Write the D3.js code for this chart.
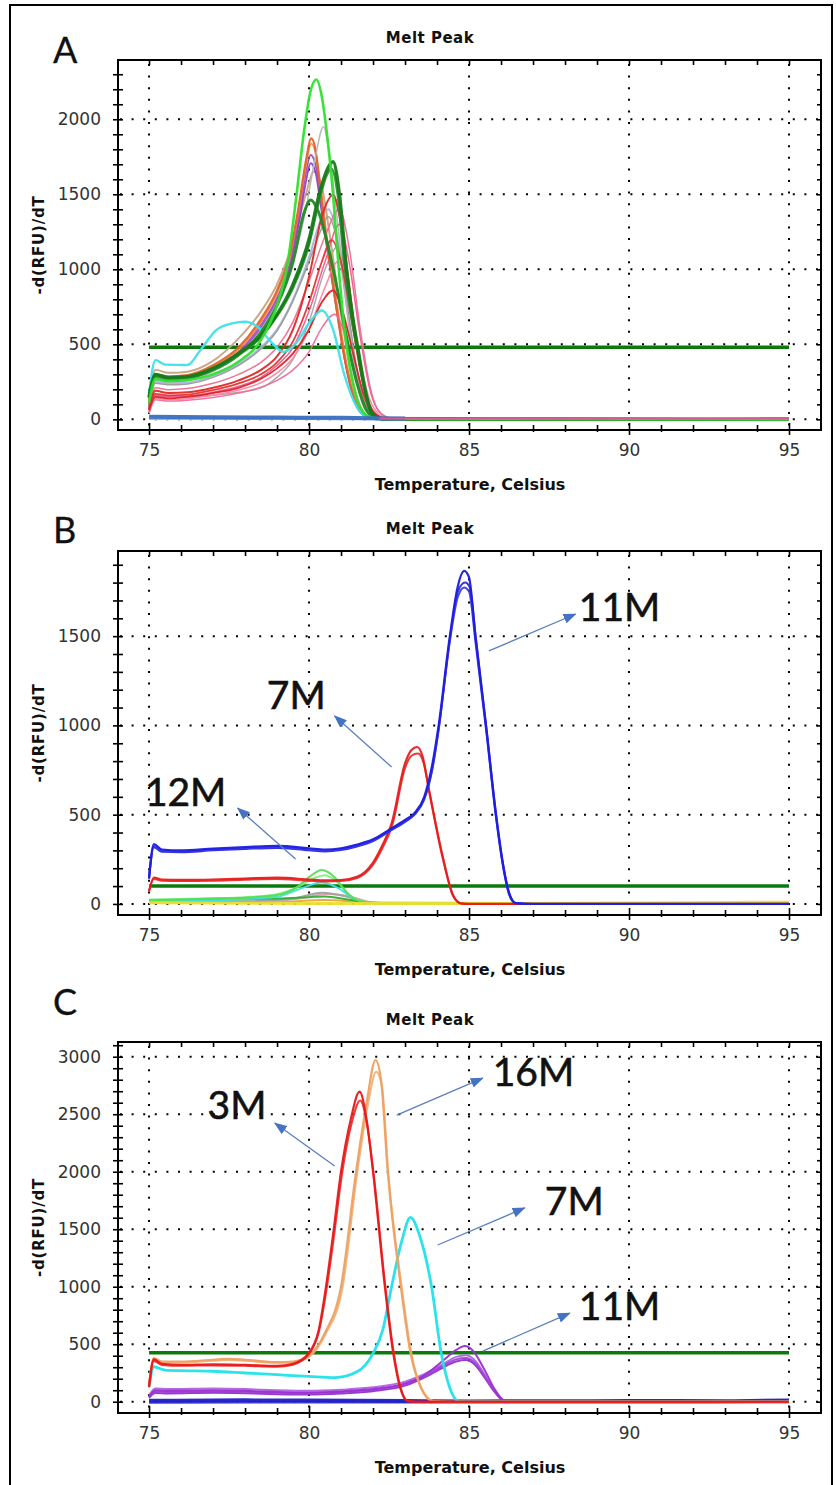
<!DOCTYPE html>
<html>
<head>
<meta charset="utf-8">
<script src="https://cdn.jsdelivr.net/npm/d3@7"></script>
<style>
  body { margin: 0; background: #fff; }
  .tick text { font-family: "DejaVu Sans", sans-serif; font-size: 17px; fill: #333; }
  .ttl { font-family: "DejaVu Sans", sans-serif; font-weight: bold; fill: #111; }
  .big { font-family: Lato, "Open Sans", sans-serif; fill: #111; stroke: #111; stroke-width: 0.6px; }
</style>
</head>
<body>
<svg id="fig" width="836" height="1485"></svg>
<script>
// ---- tick labels ----
const xTicks = [75, 80, 85, 90, 95];
const yTicksA = [0, 500, 1000, 1500, 2000];
const yTicksB = [0, 500, 1000, 1500];
const yTicksC = [0, 500, 1000, 1500, 2000, 2500, 3000];

// ---- thresholds ----
const thrA = 480, thrB = 100, thrC = 425;

// ---- panel A: melt curves [temperature, -d(RFU)/dT] ----
const aBlue = [[75,18],[77,14],[79,12],[81,10],[82,8],[83,5]];
const aBlueLight = [[75,2],[78,3],[81,1],[83,0]];
const aGrayLow = [[75,60],[75.2,150],[76.2,150],[77,160],[77.8,180],[78.5,210],[79,280],[79.5,400],[80,650],[80.5,1000],[80.9,1150],[81.2,900],[81.6,350],[82,60],[82.5,0],[95,0]];
const aTan = [[75,130],[75.2,330],[75.6,310],[76.2,318],[77,390],[77.8,540],[78.5,720],[79,900],[79.5,1180],[79.9,1500],[80.15,1650],[80.4,1550],[80.7,1150],[81,700],[81.3,330],[81.6,90],[81.95,10],[95,0]];
const aLightBlue = [[75,110],[75.2,250],[75.6,240],[76.2,245],[77,290],[77.8,370],[78.5,480],[79,600],[79.5,800],[80,1080],[80.35,1320],[80.6,1400],[80.85,1250],[81.15,800],[81.45,350],[81.8,80],[82.2,5],[95,0]];
const aGray2 = [[75,90],[75.2,240],[75.6,230],[76.2,236],[77,280],[77.8,360],[78.5,470],[79,590],[79.5,790],[80,1050],[80.35,1250],[80.6,1350],[80.85,1220],[81.2,760],[81.5,330],[81.85,60],[82.3,0],[95,0]];
const aPurple2 = [[75,85],[75.2,270],[75.6,258],[76.2,268],[77,330],[77.8,435],[78.5,610],[79,790],[79.4,1010],[79.7,1330],[79.9,1580],[80.05,1707],[80.2,1650],[80.35,1450],[80.55,1160],[80.85,750],[81.15,360],[81.45,110],[81.8,15],[82.2,0],[95,0]];
const aPurple1 = [[75,90],[75.2,280],[75.6,268],[76.2,278],[77,340],[77.8,450],[78.5,630],[79,810],[79.4,1040],[79.7,1380],[79.9,1640],[80.05,1762],[80.2,1700],[80.35,1500],[80.55,1200],[80.85,780],[81.15,380],[81.45,120],[81.8,20],[82.2,0],[95,0]];
const aOrange2 = [[75,95],[75.2,290],[75.6,278],[76.2,288],[77,350],[77.8,465],[78.5,650],[79,840],[79.4,1080],[79.7,1420],[79.9,1690],[80.07,1838],[80.22,1760],[80.36,1560],[80.55,1230],[80.85,800],[81.15,400],[81.45,130],[81.75,25],[82.2,2],[95,0]];
const aOrange1 = [[75,100],[75.2,300],[75.6,285],[76.2,295],[77,360],[77.8,480],[78.5,670],[79,860],[79.4,1100],[79.7,1450],[79.9,1720],[80.07,1872],[80.2,1800],[80.32,1595],[80.5,1262],[80.8,820],[81.1,420],[81.4,140],[81.7,30],[82.1,3],[95,0]];
const aGray1 = [[75,80],[75.2,260],[75.6,250],[76.2,258],[77,320],[77.8,430],[78.5,600],[79,780],[79.5,1050],[79.9,1400],[80.2,1750],[80.45,1950],[80.65,1750],[80.9,1300],[81.2,700],[81.5,250],[81.8,50],[82.2,5],[95,0]];
const aPink3 = [[75,40],[75.2,130],[75.6,122],[76.2,128],[77,145],[77.8,175],[78.5,215],[79,260],[79.5,330],[80,450],[80.4,610],[80.8,700],[81.1,580],[81.45,300],[81.8,90],[82.2,10],[95,0]];
const aPink2 = [[75,40],[75.2,140],[75.6,132],[76.2,138],[77,160],[77.8,195],[78.5,245],[79,310],[79.5,410],[80,600],[80.5,880],[80.9,1050],[81.2,900],[81.55,450],[81.9,130],[82.3,20],[82.8,0],[95,0]];
const aPink1 = [[75,50],[75.2,160],[75.6,150],[76.2,155],[77,180],[77.8,220],[78.5,280],[79,360],[79.5,480],[80,720],[80.5,1050],[80.95,1300],[81.25,1050],[81.6,550],[81.9,200],[82.2,50],[82.6,5],[95,0]];
const aPink4 = [[75,70],[75.2,210],[75.6,198],[76.2,205],[77,240],[77.8,300],[78.5,380],[79,480],[79.5,650],[80,920],[80.5,1220],[80.95,1400],[81.25,1150],[81.6,600],[81.95,180],[82.3,30],[82.8,0],[95,0]];
const aRed3 = [[75,60],[75.2,150],[75.6,140],[76.2,150],[77,175],[77.8,210],[78.5,270],[79,340],[79.5,440],[80,600],[80.4,780],[80.75,860],[81.05,720],[81.4,420],[81.7,170],[82,40],[82.4,0],[95,0]];
const aRed2 = [[75,60],[75.2,170],[75.6,160],[76.2,165],[77,195],[77.8,240],[78.5,300],[79,380],[79.5,520],[80,780],[80.4,1050],[80.7,1195],[81,1050],[81.3,700],[81.6,330],[81.9,90],[82.2,15],[82.6,0],[95,0]];
const aRed1 = [[75,70],[75.2,190],[75.6,175],[76.2,180],[77,210],[77.8,260],[78.5,330],[79,420],[79.5,600],[80,950],[80.4,1350],[80.75,1495],[81,1300],[81.25,900],[81.5,480],[81.8,150],[82.1,30],[82.5,0],[95,0]];
const aCyan = [[75,170],[75.2,395],[75.5,365],[76.2,362],[76.6,460],[77.1,595],[77.6,640],[78,650],[78.4,615],[78.8,520],[79.2,450],[79.6,510],[80,640],[80.4,725],[80.75,600],[81.1,300],[81.5,80],[81.9,10],[82.5,0],[95,0]];
const aDG3 = [[75,140],[75.2,290],[75.6,275],[76.2,280],[77,330],[77.8,430],[78.5,580],[79,760],[79.5,1050],[79.85,1380],[80.05,1462],[80.3,1380],[80.6,1150],[80.9,850],[81.2,520],[81.5,240],[81.8,60],[82.1,5],[95,0]];
const aDG2 = [[75,145],[75.2,295],[75.6,275],[76.2,280],[77,335],[77.8,430],[78.5,550],[79,690],[79.5,880],[80,1170],[80.3,1450],[80.55,1630],[80.7,1670],[80.9,1500],[81.1,1050],[81.3,720],[81.5,480],[81.7,230],[81.95,40],[82.3,0],[95,0]];
const aDG1 = [[75,150],[75.2,300],[75.6,280],[76.2,285],[77,340],[77.8,440],[78.5,560],[79,700],[79.5,900],[80,1200],[80.33,1510],[80.6,1680],[80.75,1717],[80.95,1500],[81.17,1000],[81.35,700],[81.53,470],[81.75,200],[82,30],[82.4,0],[95,0]];
const aLime = [[75,110],[75.2,270],[75.6,255],[76.2,262],[77,300],[77.8,385],[78.5,530],[79,760],[79.3,1000],[79.6,1480],[79.85,1930],[80.05,2190],[80.23,2265],[80.4,2150],[80.55,1920],[80.75,1500],[80.9,1080],[81.1,620],[81.35,260],[81.6,80],[81.9,15],[82.4,2],[95,0]];
const aTail = [[82.2,6],[84,4],[86,7],[88,3],[90,6],[92,4],[94,8],[95,9]];

// ---- panel B ----
const bYellow = [[75,6],[80,3],[85,2],[90,5],[95,10]];
const bOrange = [[75,8],[79,10],[80.5,22],[81.5,12],[82.5,4],[95,5]];
const bPink = [[75,5],[78,10],[79.5,25],[80.6,55],[81.4,35],[82,8],[83,0],[95,2]];
const bGray = [[75,10],[78,15],[79.5,30],[80.4,62],[81.2,40],[81.8,10],[82.5,0],[95,0]];
const bGreenDark = [[75,22],[77,25],[79,30],[80,38],[80.5,42],[81.2,25],[82,6],[95,2]];
const bCyan = [[75,15],[77,20],[79,40],[79.8,90],[80.4,120],[80.9,90],[81.4,30],[82,5],[95,2]];
const bGreen2 = [[75,25],[76,28],[77,32],[78,38],[79,55],[79.7,100],[80.1,140],[80.5,160],[80.9,120],[81.3,45],[81.8,10],[82.5,3],[95,3]];
const bGreen1 = [[75,20],[76,25],[77,30],[78,35],[79,50],[79.6,90],[80,150],[80.4,190],[80.8,150],[81.2,60],[81.6,15],[82,5],[95,3]];
const bRed2 = [[75,75],[75.15,140],[75.4,130],[76,128],[77,130],[78,136],[79,140],[80,130],[80.5,126],[81,128],[81.5,145],[82,220],[82.3,315],[82.6,440],[83,760],[83.2,830],[83.4,842],[83.58,790],[83.78,610],[84.2,250],[84.5,45],[84.75,2],[85,0],[95,0]];
const bRed1 = [[75,70],[75.15,148],[75.4,137],[76,135],[77,137],[78,142],[79,147],[80,137],[80.5,132],[81,134],[81.5,152],[82,232],[82.3,332],[82.58,450],[83,787],[83.2,862],[83.38,879],[83.55,825],[83.75,637],[84.17,264],[84.5,50],[84.75,3],[85,0],[95,0]];
const bBlue3 = [[75,140],[75.15,318],[75.4,292],[76,290],[77,300],[78,308],[79,314],[80,300],[80.5,294],[81,302],[81.5,322],[82,352],[82.5,405],[83,460],[83.3,500],[83.6,585],[83.85,750],[84.05,975],[84.4,1480],[84.65,1750],[84.88,1800],[85.02,1775],[85.22,1480],[85.55,975],[85.86,485],[86.07,220],[86.27,55],[86.47,5],[87,0],[95,0]];
const bBlue2 = [[75,150],[75.15,325],[75.4,298],[76,295],[77,305],[78,312],[79,318],[80,305],[80.5,298],[81,306],[81.5,326],[82,356],[82.5,410],[83,465],[83.3,505],[83.6,590],[83.85,760],[84.05,980],[84.4,1470],[84.65,1720],[84.85,1773],[85,1750],[85.2,1470],[85.53,980],[85.84,490],[86.05,225],[86.25,55],[86.45,5],[87,0],[95,0]];
const bBlue1 = [[75,145],[75.15,335],[75.4,305],[76,300],[77,310],[78,318],[79,325],[80,312],[80.5,305],[81,312],[81.5,332],[82,362],[82.5,415],[83,470],[83.3,510],[83.6,600],[83.85,780],[84.05,1000],[84.4,1500],[84.65,1780],[84.85,1866],[85,1830],[85.2,1500],[85.53,1000],[85.84,500],[86.05,230],[86.25,60],[86.45,5],[87,0],[95,0]];

// ---- panel C ----
const cBlue2 = [[75,-4],[80,-2],[85,-3],[90,-2],[95,-1]];
const cBlue = [[75,10],[78,14],[80,12],[83,8],[85,5],[88,6],[90,8],[93,7],[95,12]];
const cPurple4 = [[75,55],[75.2,115],[75.6,110],[77,115],[78,110],[79,100],[80,95],[81,105],[82,125],[83,175],[83.6,240],[84.2,330],[84.6,390],[84.9,405],[85.15,370],[85.5,230],[85.8,95],[86.1,8],[86.4,0],[95,0]];
const cPurple3 = [[75,35],[75.2,75],[75.6,72],[77,78],[78,74],[79,66],[80,62],[81,72],[82,92],[83,140],[83.6,210],[84.2,300],[84.6,350],[84.9,362],[85.15,330],[85.5,205],[85.8,85],[86.1,6],[86.4,0],[95,0]];
const cPurple2 = [[75,40],[75.2,90],[75.6,85],[77,90],[78,86],[79,78],[80,74],[81,84],[82,104],[83,152],[83.6,222],[84.2,315],[84.6,368],[84.9,380],[85.15,348],[85.5,215],[85.8,90],[86.1,7],[86.4,0],[95,0]];
const cPurple1 = [[75,40],[75.2,100],[75.6,95],[77,100],[78,95],[79,85],[80,80],[81,90],[82,110],[83,160],[83.6,230],[84.2,360],[84.6,450],[84.87,484],[85.1,450],[85.5,270],[85.8,110],[86.1,10],[86.4,0],[95,0]];
const cCyan = [[75,130],[75.15,304],[75.5,275],[76,270],[77,265],[78,250],[79,235],[80,220],[80.8,210],[81.5,260],[82,420],[82.3,620],[82.58,1000],[82.9,1400],[83.17,1603],[83.45,1450],[83.83,1000],[84.13,425],[84.4,120],[84.67,5],[85,0],[95,0]];
const cOrange2 = [[75,145],[75.15,370],[75.4,342],[76,342],[77,356],[77.5,362],[78,356],[79,338],[79.5,342],[80,390],[80.5,580],[81.05,1000],[81.5,1980],[81.85,2600],[82.1,2870],[82.28,2740],[82.48,1980],[82.9,990],[83.2,420],[83.52,115],[83.9,5],[84.5,0],[95,0]];
const cOrange1 = [[75,150],[75.15,380],[75.4,350],[76,350],[77,365],[77.5,372],[78,365],[79,345],[79.5,350],[80,400],[80.5,600],[81,1000],[81.47,2000],[81.8,2600],[82.08,2971],[82.25,2800],[82.46,2000],[82.87,1000],[83.17,425],[83.5,120],[83.87,5],[84.5,0],[95,0]];
const cRed2 = [[75,125],[75.15,355],[75.4,320],[76,312],[77,316],[78,312],[79,304],[79.5,322],[80,415],[80.3,600],[80.56,1000],[80.78,1440],[81.03,1980],[81.33,2420],[81.6,2620],[81.82,2400],[82.02,1980],[82.39,990],[82.65,420],[82.87,115],[83.1,5],[83.5,0],[95,0]];
const cRed1 = [[75,130],[75.15,368],[75.4,330],[76,320],[77,325],[78,320],[79,312],[79.5,330],[80,426],[80.3,620],[80.53,1000],[80.75,1450],[81,2000],[81.3,2450],[81.58,2696],[81.8,2450],[82,2000],[82.37,1000],[82.63,425],[82.85,120],[83.08,5],[83.5,0],[95,0]];

// ---- annotations: label, label anchor (T, value), arrow tail, arrow head ----
const notesB = [
  ["11M", 88.43, 1585, 85.62, 1417, 88.33, 1624],
  ["7M", 78.68, 1092, 82.58, 767, 80.8, 1053],
  ["12M", 74.87, 549, 79.58, 252, 77.77, 537]
];
const notesC = [
  ["16M", 85.74, 2745, 82.74, 2492, 85.43, 2814],
  ["3M", 76.83, 2458, 80.8, 2050, 78.93, 2423],
  ["7M", 87.37, 1623, 84.02, 1363, 86.74, 1685],
  ["11M", 88.43, 710, 85.43, 440, 88.15, 771]
];

const svg = d3.select("#fig");

// outer frame
svg.append("rect").attr("x", 10).attr("y", 5).attr("width", 822).attr("height", 1500)
  .attr("fill", "none").attr("stroke", "#000").attr("stroke-width", 2);

const defs = svg.append("defs");
defs.append("marker").attr("id", "arr")
  .attr("viewBox", "0 0 13 10").attr("refX", 12).attr("refY", 5)
  .attr("markerWidth", 13).attr("markerHeight", 10)
  .attr("markerUnits", "userSpaceOnUse").attr("orient", "auto")
  .append("path").attr("d", "M0,0L13,5L0,10Z").attr("fill", "#4472c4");

const panels = [
  { letter: "A", top: 60, bottom: 430, yMin: -71, yMax: 2395, letterY: 63, yTicks: yTicksA, thr: thrA,
    curves: [
      [aGrayLow, "#a8a8a8", 1.5], [aTan, "#c8a482", 2], [aLightBlue, "#a6b6d8", 2], [aGray2, "#9a9a9a", 1.5],
      [aPurple2, "#8a3fd0", 1.8], [aPurple1, "#a848c0", 1.8], [aOrange2, "#f08a55", 1.8], [aOrange1, "#e06428", 2.2],
      [aGray1, "#b4b4b4", 1.5], [aPink3, "#f06a9a", 1.5], [aPink2, "#ff7fa8", 1.5], [aPink1, "#f05a8c", 1.5],
      [aPink4, "#e8708f", 1.5], [aRed3, "#dc2222", 1.8], [aRed2, "#e43030", 1.8], [aRed1, "#e02828", 2],
      [aCyan, "#3ee0ea", 2.4], [aDG3, "#1f8a25", 3], [aDG2, "#2a9430", 2.8], [aDG1, "#177a1a", 3.4],
      [aLime, "#2fe02f", 2.6], [aBlueLight, "#7ab8ec", 2], [aBlue, "#3a6ec0", 4], [aTail, "#e0559a", 2]
    ], notes: [] },
  { letter: "B", top: 551, bottom: 915, yMin: -62, yMax: 1977, letterY: 543, yTicks: yTicksB, thr: thrB,
    curves: [
      [bOrange, "#f0a040", 2], [bPink, "#e0a0b8", 2], [bGray, "#a0a0a0", 2], [bGreenDark, "#30b030", 2],
      [bCyan, "#40e0e0", 2], [bGreen2, "#80ee80", 2], [bGreen1, "#55dd55", 2], [bYellow, "#e8e030", 3],
      [bRed2, "#e83030", 2], [bRed1, "#e81c1c", 2.2],
      [bBlue3, "#2828d8", 2], [bBlue2, "#3a3ae8", 2], [bBlue1, "#1c1ce0", 2.2]
    ], notes: notesB },
  { letter: "C", top: 1042, bottom: 1413, yMin: -98, yMax: 3128, letterY: 1015, yTicks: yTicksC, thr: thrC,
    curves: [
      [cBlue2, "#3030d0", 3], [cBlue, "#1e1ec8", 3.5],
      [cPurple4, "#b060e0", 2], [cPurple3, "#9030c8", 2], [cPurple2, "#a040d8", 2], [cPurple1, "#9b30d0", 2],
      [cCyan, "#22e2ea", 2.8], [cOrange2, "#f2b078", 2], [cOrange1, "#eea060", 2.2],
      [cRed2, "#ee3030", 2], [cRed1, "#e81818", 2.2]
    ], notes: notesC }
];

function drawPanel(p, i) {
  const x = d3.scaleLinear().domain([74.03, 96.0]).range([118, 821]);
  const y = d3.scaleLinear().domain([p.yMin, p.yMax]).range([p.bottom, p.top]);
  const g = svg.append("g");

  g.append("text").attr("class", "big").attr("x", 53).attr("y", p.letterY)
    .attr("font-size", 36).style("stroke-width", "0.3px").text(p.letter);
  g.append("text").attr("class", "ttl").attr("x", 430).attr("y", p.top - 17)
    .attr("text-anchor", "middle").attr("font-size", 15).attr("letter-spacing", 0.5).text("Melt Peak");
  g.append("text").attr("class", "ttl").attr("x", 470).attr("y", p.bottom + 60)
    .attr("text-anchor", "middle").attr("font-size", 16).text("Temperature, Celsius");
  g.append("text").attr("class", "ttl")
    .attr("transform", "translate(44," + (p.top + p.bottom) / 2 + ") rotate(-90)")
    .attr("text-anchor", "middle").attr("font-size", 15).attr("letter-spacing", 0.8).text("-d(RFU)/dT");

  // dotted grid
  g.selectAll(".vg").data(xTicks).join("line")
    .attr("x1", d => x(d)).attr("x2", d => x(d)).attr("y1", p.top + 4).attr("y2", p.bottom)
    .attr("stroke", "#000").attr("stroke-width", 2).attr("stroke-dasharray", "2,9.6");
  g.selectAll(".hg").data(p.yTicks).join("line")
    .attr("x1", 120).attr("x2", 821).attr("y1", d => y(d)).attr("y2", d => y(d))
    .attr("stroke", "#000").attr("stroke-width", 2).attr("stroke-dasharray", "2,9.6");

  // curves
  const clipId = "clip" + i;
  defs.append("clipPath").attr("id", clipId).append("rect")
    .attr("x", 118).attr("y", p.top).attr("width", 703).attr("height", p.bottom - p.top);
  const line = d3.line().x(d => x(d[0])).y(d => y(d[1])).curve(d3.curveMonotoneX);
  const cg = g.append("g").attr("clip-path", "url(#" + clipId + ")");

  // threshold line
  cg.append("line").attr("x1", x(75)).attr("x2", x(95)).attr("y1", y(p.thr)).attr("y2", y(p.thr))
    .attr("stroke", "#0b7a0b").attr("stroke-width", 3.5);

  cg.selectAll(".curve").data(p.curves).join("path")
    .attr("d", d => line(d[0])).attr("fill", "none")
    .attr("stroke", d => d[1]).attr("stroke-width", d => d[2])
    .attr("stroke-linejoin", "round").attr("stroke-opacity", 0.95);

  // axes
  const minorY = d3.range(0, p.yMax, 100);
  const minorX = d3.range(75, 96, 1);

  const left = g.append("g").attr("transform", "translate(118,0)")
    .call(d3.axisLeft(y).tickValues(minorY).tickSize(5).tickSizeOuter(0).tickFormat(""));
  left.selectAll(".tick line").attr("x1", 5).attr("stroke-width", 1.6);
  const leftLab = g.append("g").attr("transform", "translate(118,0)")
    .call(d3.axisLeft(y).tickValues(p.yTicks).tickSize(0).tickPadding(17).tickFormat(d3.format("d")));

  const right = g.append("g").attr("transform", "translate(821,0)")
    .call(d3.axisRight(y).tickValues(minorY).tickSize(-4).tickSizeOuter(0).tickFormat(""));
  right.selectAll(".tick line").attr("stroke-width", 1.6);

  const top = g.append("g").attr("transform", "translate(0," + p.top + ")")
    .call(d3.axisTop(x).tickValues(minorX).tickSize(-5).tickSizeOuter(0).tickFormat(""));
  top.selectAll(".tick line").attr("stroke-width", 1.6);

  const bottom = g.append("g").attr("transform", "translate(0," + p.bottom + ")")
    .call(d3.axisBottom(x).tickValues(minorX).tickSize(2).tickSizeOuter(0).tickFormat(""));
  bottom.selectAll(".tick line")
    .attr("y1", d => xTicks.includes(d) ? -7 : -5)
    .attr("y2", d => xTicks.includes(d) ? 5 : 2).attr("stroke-width", 1.6);
  const bottomLab = g.append("g").attr("transform", "translate(0," + p.bottom + ")")
    .call(d3.axisBottom(x).tickValues(xTicks).tickSize(0).tickPadding(14).tickFormat(d3.format("d")));

  [left, leftLab, right, top, bottom, bottomLab].forEach(a => a.select(".domain").remove());

  // plot box
  g.append("rect").attr("x", 118).attr("y", p.top).attr("width", 703).attr("height", p.bottom - p.top)
    .attr("fill", "none").attr("stroke", "#000").attr("stroke-width", 2);

  // annotations
  p.notes.forEach(n => {
    g.append("line").attr("x1", x(n[3])).attr("y1", y(n[4])).attr("x2", x(n[5])).attr("y2", y(n[6]))
      .attr("stroke", "#5b7fbf").attr("stroke-width", 1.3).attr("marker-end", "url(#arr)");
    g.append("text").attr("class", "big").attr("x", x(n[1])).attr("y", y(n[2]))
      .attr("font-size", 39).text(n[0]);
  });
}

panels.forEach(drawPanel);
</script>
</body>
</html>
